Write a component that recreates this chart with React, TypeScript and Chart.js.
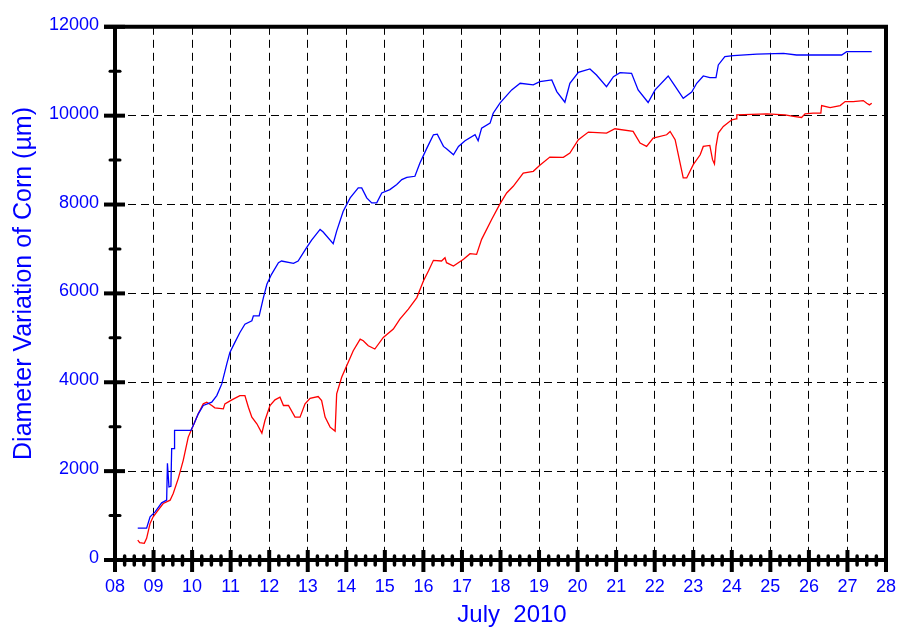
import React, { useEffect, useRef } from "react";
import { Chart, registerables } from "chart.js";

Chart.register(...registerables);

const xTickLabels = ["08","09","10","11","12","13","14","15","16","17","18","19","20","21","22","23","24","25","26","27","28"];
const yTickValues = [0, 2000, 4000, 6000, 8000, 10000, 12000];

const blueDays = [8.59,8.82,8.91,9.04,9.21,9.34,9.36,9.40,9.45,9.47,9.54,9.545,9.97,10.05,10.16,10.29,10.51,10.64,10.77,10.90,10.98,11.11,11.24,11.37,11.55,11.59,11.74,11.85,11.94,12.06,12.24,12.32,12.63,12.75,12.97,13.10,13.32,13.40,13.66,13.75,13.92,14.10,14.31,14.40,14.53,14.66,14.79,14.92,15.13,15.31,15.44,15.57,15.78,15.91,16.09,16.26,16.36,16.52,16.60,16.78,16.91,17.08,17.34,17.42,17.51,17.73,17.81,17.99,18.29,18.51,18.85,19.02,19.33,19.46,19.67,19.80,20.02,20.32,20.49,20.75,20.93,21.10,21.40,21.57,21.83,22.01,22.35,22.48,22.74,22.96,23.09,23.26,23.43,23.59,23.65,23.82,24.04,24.65,25.34,25.68,26.85,26.98,27.63];
const blueValues = [718,718,971,1084,1286,1346,2176,1644,1660,2505,2505,2916,2916,3066,3290,3477,3551,3701,3963,4412,4672,4897,5121,5308,5383,5495,5495,5906,6206,6430,6691,6729,6677,6729,7028,7200,7440,7380,7118,7402,7850,8149,8373,8373,8149,8037,8037,8261,8336,8449,8561,8613,8636,8934,9270,9570,9585,9308,9256,9121,9308,9435,9570,9435,9719,9831,10055,10290,10580,10729,10692,10766,10804,10542,10303,10729,10976,11051,10916,10654,10878,10968,10953,10580,10296,10580,10894,10729,10392,10530,10729,10894,10856,10856,11141,11327,11350,11387,11402,11365,11365,11440,11440];

const redDays = [8.59,8.64,8.76,8.82,8.91,8.99,9.12,9.25,9.43,9.51,9.64,9.77,9.90,10.03,10.16,10.29,10.38,10.51,10.59,10.81,10.85,11.03,11.24,11.37,11.46,11.55,11.68,11.81,11.89,12.02,12.15,12.28,12.37,12.50,12.67,12.80,12.93,13.06,13.27,13.36,13.45,13.58,13.71,13.75,13.88,14.05,14.18,14.36,14.44,14.57,14.74,14.96,15.22,15.39,15.61,15.83,16.00,16.13,16.26,16.47,16.56,16.60,16.78,17.04,17.21,17.38,17.51,17.77,17.99,18.16,18.33,18.59,18.85,19.02,19.28,19.63,19.80,20.02,20.28,20.75,20.97,21.44,21.62,21.79,21.96,22.31,22.40,22.53,22.74,22.83,23.00,23.18,23.26,23.43,23.50,23.55,23.59,23.65,23.78,24.00,24.11,24.13,24.91,25.38,25.60,25.81,25.90,26.11,26.31,26.33,26.55,26.81,26.94,27.15,27.41,27.50,27.57,27.63];
const redValues = [449,392,374,487,823,972,1122,1271,1346,1496,1832,2243,2766,3028,3290,3514,3551,3477,3425,3402,3514,3604,3701,3701,3439,3215,3066,2856,3140,3477,3604,3663,3477,3477,3215,3215,3514,3640,3678,3589,3215,2990,2901,3739,4112,4448,4710,4972,4935,4822,4748,5009,5196,5421,5645,5906,6280,6505,6744,6729,6803,6691,6617,6767,6893,6879,7216,7664,8020,8261,8411,8710,8748,8882,9069,9062,9158,9459,9630,9607,9705,9645,9383,9308,9495,9570,9645,9459,8598,8598,8897,9120,9308,9331,9010,8912,9308,9607,9757,9907,9929,10019,10042,10019,9982,9959,10042,10057,10057,10228,10183,10228,10318,10318,10340,10280,10243,10280];

const yTitle = "Diameter Variation of Corn (\u00b5m)";
const xTitle = "July  2010";

const FONT = "'Liberation Sans', Arial, sans-serif";
const BLUE = "#0000ff";

const framePlugin = {
  id: "framePlugin",
  afterDraw(chart: any) {
    const ctx = chart.ctx;
    const xs = chart.scales.x;
    const ys = chart.scales.y;
    const { left, right, top, bottom } = chart.chartArea;
    ctx.save();
    ctx.strokeStyle = "#000";
    ctx.lineCap = "butt";
    // frame
    ctx.lineWidth = 4;
    ctx.beginPath();
    ctx.moveTo(left - 11, top); ctx.lineTo(right + 2, top);
    ctx.moveTo(left - 11, bottom); ctx.lineTo(right, bottom);
    ctx.moveTo(left, top - 2); ctx.lineTo(left, bottom + 12);
    ctx.moveTo(right, top - 2); ctx.lineTo(right, bottom + 12);
    ctx.stroke();
    // x ticks
    const xMin = xs.min, xMax = xs.max;
    for (let d = xMin; d <= xMax + 1e-9; d += 0.25) {
      const px = xs.getPixelForValue(d);
      const isMajor = Math.abs(d - Math.round(d)) < 1e-6;
      if (isMajor) {
        ctx.lineWidth = 4;
        ctx.beginPath();
        ctx.moveTo(px, bottom - 10); ctx.lineTo(px, bottom + 12);
        ctx.stroke();
      } else {
        ctx.lineWidth = 3.5;
        ctx.lineCap = "round";
        ctx.beginPath();
        ctx.moveTo(px, bottom - 4); ctx.lineTo(px, bottom + 5);
        ctx.stroke();
        ctx.lineCap = "butt";
      }
    }
    // y ticks
    for (let v = 0; v <= 12000; v += 1000) {
      const py = ys.getPixelForValue(v);
      if (v % 2000 === 0) {
        ctx.lineWidth = 4;
        ctx.beginPath();
        ctx.moveTo(left - 11, py); ctx.lineTo(left + 10, py);
        ctx.stroke();
      } else {
        ctx.lineWidth = 3;
        ctx.lineCap = "round";
        ctx.beginPath();
        ctx.moveTo(left - 5, py); ctx.lineTo(left + 5, py);
        ctx.stroke();
        ctx.lineCap = "butt";
      }
    }
    // titles
    ctx.fillStyle = BLUE;
    ctx.textAlign = "center";
    ctx.textBaseline = "alphabetic";
    ctx.font = "24px " + FONT;
    ctx.fillText(xTitle, 512, 622);
    ctx.font = "25px " + FONT;
    ctx.translate(30.5, 283.5);
    ctx.rotate(-Math.PI / 2);
    ctx.fillText(yTitle, 0, 0);
    ctx.restore();
  },
};

export default function App() {
  const ref = useRef<HTMLCanvasElement | null>(null);
  useEffect(() => {
    if (!ref.current) return;
    const chart = new Chart(ref.current, {
      type: "line",
      data: {
        datasets: [
          {
            label: "blue",
            data: blueDays.map((d, i) => ({ x: d, y: blueValues[i] })),
            borderColor: BLUE,
            borderWidth: 1.3,
            pointRadius: 0,
            fill: false,
          },
          {
            label: "red",
            data: redDays.map((d, i) => ({ x: d, y: redValues[i] })),
            borderColor: "#ff0000",
            borderWidth: 1.3,
            pointRadius: 0,
            fill: false,
          },
        ],
      },
      options: {
        animation: false,
        responsive: true,
        maintainAspectRatio: false,
        layout: { padding: { top: 25, right: 33, left: 0, bottom: 0 } },
        plugins: { legend: { display: false }, tooltip: { enabled: false } },
        scales: {
          x: {
            type: "linear",
            min: 8,
            max: 28,
            afterFit: (s: any) => { s.height = 76; },
            afterBuildTicks: (s: any) => {
              s.ticks = xTickLabels.map((_, i) => ({ value: 8 + i }));
            },
            ticks: {
              color: BLUE,
              font: { family: FONT, size: 18 },
              padding: 16,
              maxRotation: 0,
              autoSkip: false,
              callback: (v: any) => xTickLabels[Math.round(Number(v)) - 8] ?? "",
            },
            grid: { color: "#000", lineWidth: 1, drawTicks: false },
            border: { display: false, dash: [8, 5] },
          },
          y: {
            type: "linear",
            min: 0,
            max: 12000,
            afterFit: (s: any) => { s.width = 115; },
            afterBuildTicks: (s: any) => {
              s.ticks = yTickValues.map((v) => ({ value: v }));
            },
            ticks: {
              color: BLUE,
              font: { family: FONT, size: 18 },
              padding: 16,
              labelOffset: -2,
              autoSkip: false,
              callback: (v: any) => String(v),
            },
            grid: { color: "#000", lineWidth: 1, drawTicks: false },
            border: { display: false, dash: [8, 5] },
          },
        },
      },
      plugins: [framePlugin],
    });
    return () => chart.destroy();
  }, []);
  return (
    <div style={{ position: "fixed", left: 0, top: 0, width: 919, height: 636, background: "#fff" }}>
      <canvas ref={ref} />
    </div>
  );
}
